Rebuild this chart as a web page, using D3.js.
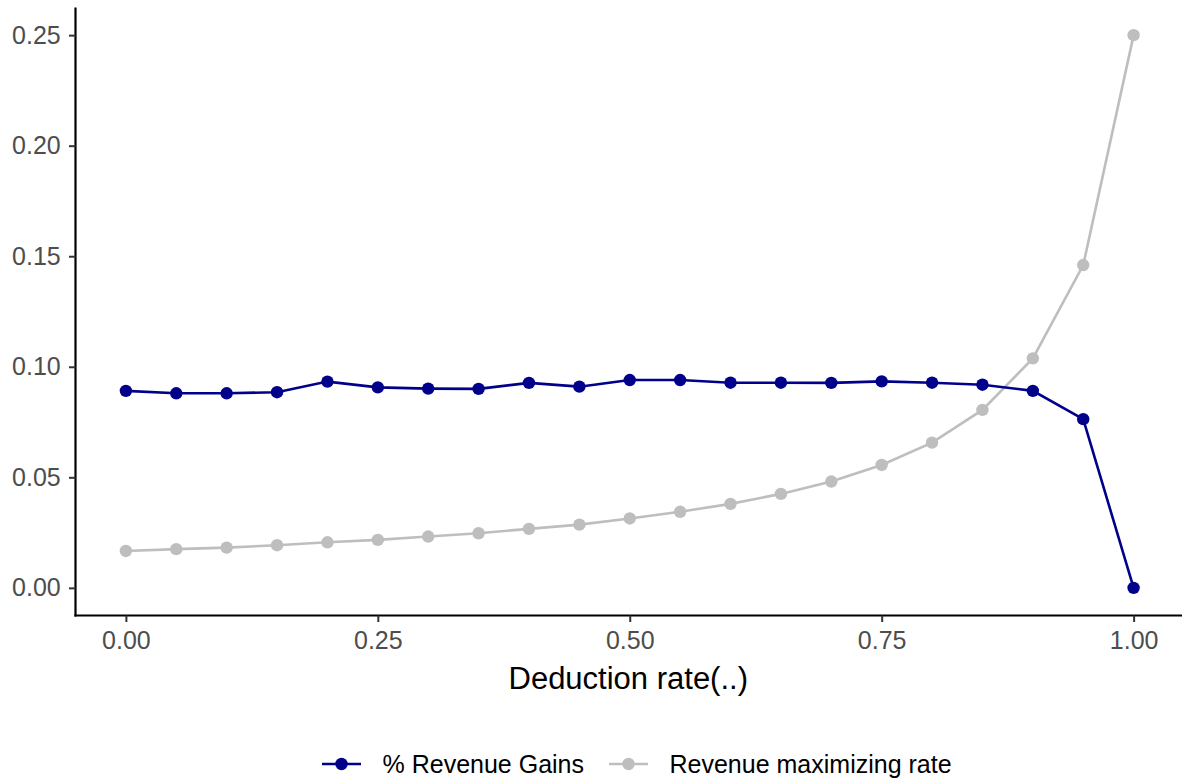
<!DOCTYPE html>
<html>
<head>
<meta charset="utf-8">
<script src="https://cdn.jsdelivr.net/npm/d3@7"></script>
<style>
  body { margin: 0; background: #fff; }
  text { font-family: "Liberation Sans", Arial, Helvetica, sans-serif; }
</style>
</head>
<body>
<script>
const width = 1182;
const height = 782;

const rates = [0, 0.05, 0.10, 0.15, 0.20, 0.25, 0.30, 0.35, 0.40, 0.45, 0.50,
  0.55, 0.60, 0.65, 0.70, 0.75, 0.80, 0.85, 0.90, 0.95, 1.00];
const revenueGains = [0.0891, 0.0880, 0.0880, 0.0885, 0.0933, 0.0907, 0.0901, 0.0900, 0.0927, 0.0910, 0.0940,
  0.0940, 0.0928, 0.0928, 0.0927, 0.0934, 0.0928, 0.0919, 0.0891, 0.0763, 0.0000];
const maxRate = [0.0167, 0.0175, 0.0182, 0.0193, 0.0206, 0.0217, 0.0232, 0.0247, 0.0267, 0.0286, 0.0314,
  0.0344, 0.0380, 0.0425, 0.0481, 0.0556, 0.0657, 0.0805, 0.1038, 0.1460, 0.2500];
const xTicks = [0, 0.25, 0.5, 0.75, 1];
const yTicks = [0, 0.05, 0.10, 0.15, 0.20, 0.25];
const seriesNames = ['% Revenue Gains', 'Revenue maximizing rate'];
const seriesColors = ['#00008B', '#BEBEBE'];

const series = [revenueGains, maxRate].map((vals, i) => ({
  name: seriesNames[i],
  color: seriesColors[i],
  values: rates.map((r, j) => ({ x: r, y: vals[j] }))
}));

const panel = { left: 75.5, right: 1184, top: 7.5, bottom: 615.5 };

const x = d3.scaleLinear().domain([-0.05, 1.05]).range([panel.left, panel.right]);
const y = d3.scaleLinear().domain([-0.0125, 0.2625]).range([panel.bottom, panel.top]);

const svg = d3.select('body')
  .append('svg')
    .attr('width', width)
    .attr('height', height);

const xAxis = svg.append('g')
  .attr('transform', `translate(0,${panel.bottom})`)
  .call(d3.axisBottom(x).tickValues(xTicks).tickFormat(d3.format('.2f')).tickSize(6.5).tickPadding(9).tickSizeOuter(0));

const yAxis = svg.append('g')
  .attr('transform', `translate(${panel.left},0)`)
  .call(d3.axisLeft(y).tickValues(yTicks).tickFormat(d3.format('.2f')).tickSize(6.5).tickPadding(8.3).tickSizeOuter(0));

[xAxis, yAxis].forEach(a => {
  a.select('.domain').attr('stroke', '#000').attr('stroke-width', 2.2);
  a.selectAll('.tick line').attr('stroke', '#333').attr('stroke-width', 2);
  a.selectAll('.tick text').attr('fill', '#4D4D4D').style('font-size', '25px');
});
xAxis.select('.domain').attr('d', `M${panel.left - 1.1},0H${panel.right}`);
yAxis.select('.domain').attr('d', `M0,${panel.bottom + 1.1}V${panel.top}`);

svg.append('text')
  .attr('x', (panel.left + panel.right) / 2 - 1.5)
  .attr('y', 689)
  .attr('text-anchor', 'middle')
  .attr('fill', '#000')
  .style('font-size', '31px')
  .text('Deduction rate(..)');

const line = d3.line().x(d => x(d.x)).y(d => y(d.y));

// grey first so the blue line sits on top
const drawOrder = [series[1], series[0]];

svg.append('g')
  .selectAll('path')
  .data(drawOrder)
  .enter()
    .append('path')
      .attr('fill', 'none')
      .attr('stroke', d => d.color)
      .attr('stroke-width', 2.6)
      .attr('d', d => line(d.values));

svg.append('g')
  .selectAll('g')
  .data(drawOrder)
  .enter()
    .append('g')
      .attr('fill', d => d.color)
      .selectAll('circle')
      .data(d => d.values)
      .enter()
        .append('circle')
          .attr('cx', d => x(d.x))
          .attr('cy', d => y(d.y))
          .attr('r', 6.2);

// legend
const legendY = 764;
const legendX = [322, 609];
const legend = svg.append('g')
  .selectAll('g')
  .data(series)
  .enter()
    .append('g')
      .attr('transform', (d, i) => `translate(${legendX[i]},${legendY})`);

legend.append('line')
  .attr('x1', 0).attr('x2', 39)
  .attr('stroke', d => d.color)
  .attr('stroke-width', 2.6);

legend.append('circle')
  .attr('cx', 19.5)
  .attr('r', 6.2)
  .attr('fill', d => d.color);

legend.append('text')
  .attr('x', 60.5)
  .attr('dy', '0.35em')
  .attr('fill', '#000')
  .style('font-size', '25px')
  .text(d => d.name);
</script>
</body>
</html>
